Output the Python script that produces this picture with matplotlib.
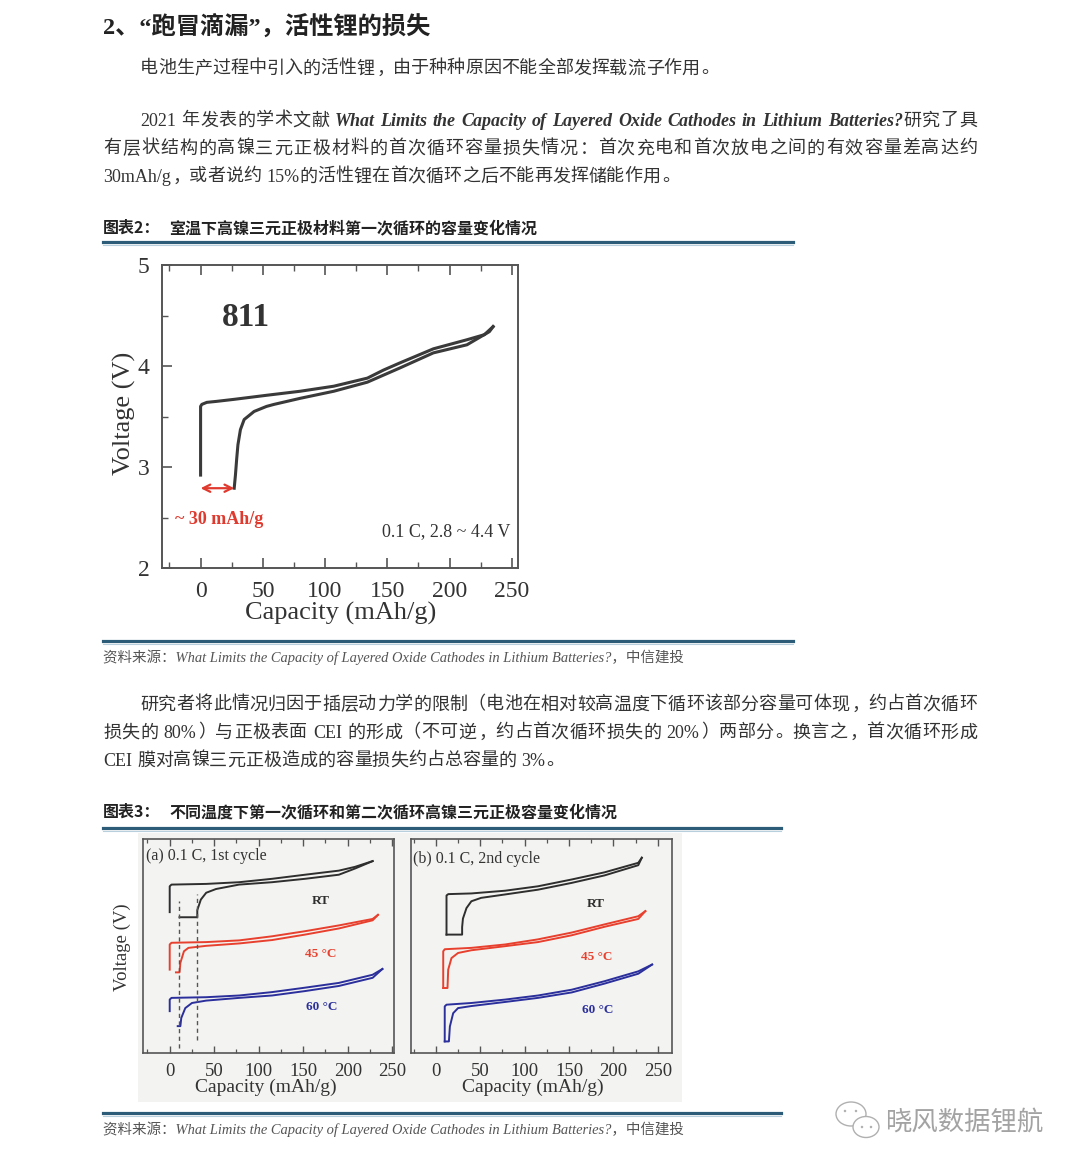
import matplotlib
matplotlib.use('Agg')
import matplotlib.pyplot as plt
from matplotlib.ticker import MultipleLocator
from matplotlib.lines import Line2D
from matplotlib.patches import Rectangle, Ellipse

# ---------------- data ----------------
# Chart 2: 811 first cycle at room temperature
cap1_charge = [0, 0, 1, 5, 13, 27, 53, 80, 107, 134, 147, 160, 187, 214, 228, 235]
volt1_charge = [2.92, 3.60, 3.62, 3.64, 3.65, 3.67, 3.71, 3.75, 3.80, 3.88, 3.96, 4.03, 4.17, 4.26, 4.31, 4.39]
cap1_dis = [235, 232, 214, 187, 160, 147, 134, 107, 80, 59, 53, 43, 35, 32, 30, 29, 28, 27]
volt1_dis = [4.39, 4.34, 4.21, 4.13, 3.98, 3.91, 3.84, 3.75, 3.68, 3.62, 3.60, 3.55, 3.47, 3.37, 3.22, 3.08, 2.92, 2.79]
loss_arrow = [0, 27]  # mAh/g, ~30 mAh/g irreversible capacity
arrow_v = 2.79

# Chart 3 (offset voltage, arbitrary units): panel (a) 1st cycle
a_rt_c_x = [0, 0, 2, 41, 78, 115, 152, 190, 208, 228]
a_rt_c_y = [4.14, 4.90, 4.95, 4.97, 5.02, 5.12, 5.24, 5.36, 5.47, 5.64]
a_rt_d_x = [228, 208, 190, 152, 115, 78, 52, 41, 35, 31, 31, 11]
a_rt_d_y = [5.64, 5.42, 5.24, 5.12, 5.02, 4.95, 4.82, 4.71, 4.51, 4.20, 3.99, 3.99]
a_45_c_x = [0, 0, 2, 41, 78, 115, 152, 190, 228, 234]
a_45_c_y = [2.45, 3.19, 3.24, 3.26, 3.31, 3.43, 3.58, 3.75, 3.94, 4.06]
a_45_d_x = [234, 228, 190, 152, 115, 78, 41, 21, 16, 12, 11, 7]
a_45_d_y = [4.06, 3.90, 3.66, 3.48, 3.32, 3.22, 3.15, 3.09, 2.99, 2.65, 2.37, 2.37]
a_60_c_x = [0, 0, 2, 41, 78, 115, 152, 190, 228, 239]
a_60_c_y = [1.23, 1.57, 1.62, 1.64, 1.69, 1.79, 1.92, 2.06, 2.30, 2.47]
a_60_d_x = [239, 228, 190, 152, 115, 78, 41, 25, 17.5, 13, 12, 9]
a_60_d_y = [2.47, 2.21, 1.97, 1.82, 1.69, 1.62, 1.54, 1.47, 1.32, 1.03, 0.79, 0.79]
a_dash_x = [11, 31]
a_dash_y0 = [0.15, 0.37]
a_dash_y1 = [4.46, 4.66]

# panel (b) 2nd cycle
b_rt_c_x = [12, 12, 14, 40, 78, 115, 153, 190, 228, 232]
b_rt_c_y = [3.48, 4.63, 4.67, 4.69, 4.77, 4.90, 5.10, 5.31, 5.59, 5.74]
b_rt_d_x = [232, 228, 190, 153, 115, 78, 51, 40, 34.5, 30.5, 29.6, 29.6, 12]
b_rt_d_y = [5.74, 5.52, 5.22, 5.00, 4.80, 4.66, 4.56, 4.46, 4.26, 3.95, 3.70, 3.48, 3.48]
b_45_c_x = [8.3, 8.3, 10, 40, 78, 115, 153, 190, 228, 236]
b_45_c_y = [1.91, 2.99, 3.05, 3.09, 3.19, 3.34, 3.54, 3.78, 4.02, 4.17]
b_45_d_x = [236, 228, 190, 153, 115, 78, 40, 25, 17.6, 13.9, 13.1, 8.3]
b_45_d_y = [4.17, 3.94, 3.71, 3.46, 3.26, 3.14, 3.02, 2.94, 2.79, 2.45, 1.91, 1.91]
b_60_c_x = [10, 10, 12, 40, 78, 115, 153, 190, 228, 243.6]
b_60_c_y = [0.34, 1.37, 1.42, 1.47, 1.57, 1.69, 1.86, 2.11, 2.40, 2.60]
b_60_d_x = [243.6, 228, 190, 153, 115, 78, 40, 25, 19.5, 15.8, 14.7, 10]
b_60_d_y = [2.60, 2.33, 2.04, 1.78, 1.62, 1.50, 1.38, 1.32, 1.17, 0.78, 0.34, 0.34]

temp_labels = ['RT', '45 °C', '60 °C']
temp_colors = ['#2e2e2e', '#e8402e', '#2b2f9c']

# ---------------- texts ----------------
title = '2、“跑冒滴漏”，活性锂的损失'
para1 = '电池生产过程中引入的活性锂，由于种种原因不能全部发挥载流子作用。'
para2_l1a = '2021 年发表的学术文献 '
para2_l1b = 'What Limits the Capacity of Layered Oxide Cathodes in Lithium Batteries?'
para2_l1c = '研究了具'
para2_l2 = '有层状结构的高镍三元正极材料的首次循环容量损失情况：首次充电和首次放电之间的有效容量差高达约'
para2_l3 = '30mAh/g，或者说约 15%的活性锂在首次循环之后不能再发挥储能作用。'
cap2_label = '图表2：'
cap2_text = '室温下高镍三元正极材料第一次循环的容量变化情况'
source_text = '资料来源：What Limits the Capacity of Layered Oxide Cathodes in Lithium Batteries?，中信建投'
para3_l1 = '研究者将此情况归因于插层动力学的限制（电池在相对较高温度下循环该部分容量可体现，约占首次循环'
para3_l2 = '损失的 80%）与正极表面 CEI 的形成（不可逆，约占首次循环损失的 20%）两部分。换言之，首次循环形成'
para3_l3 = 'CEI 膜对高镍三元正极造成的容量损失约占总容量的 3%。'
cap3_label = '图表3：'
cap3_text = '不同温度下第一次循环和第二次循环高镍三元正极容量变化情况'
watermark = '晓风数据锂航'

# ---------------- setup ----------------
W, H = 1080, 1170
fig = plt.figure(figsize=(W / 100, H / 100), dpi=100)
fig.patch.set_facecolor('white')
renderer = fig.canvas.get_renderer()

BODY = ['Liberation Serif', 'Noto Sans CJK SC', 'DejaVu Sans']
SANS = ['Noto Sans CJK SC', 'DejaVu Sans']
SERIF = ['Liberation Serif', 'DejaVu Serif']
TXT = '#333333'


def fx(x):
    return x / W


def fy(y):
    return 1 - y / H


def measure(s, size, props, family=BODY):
    t = fig.text(0, 0, s, fontsize=size, family=family, **props)
    w = t.get_window_extent(renderer).width
    t.remove()
    return w


def is_wide(ch):
    return ord(ch) >= 0x2E80


def tokens_of(segments):
    toks = []
    pend = False
    for text, props in segments:
        buf = ''
        bsp = False
        for ch in text:
            if ch == ' ':
                if buf:
                    toks.append((buf, props, bsp))
                    buf = ''
                pend = True
            elif not is_wide(ch):
                if not buf:
                    bsp = pend
                    pend = False
                buf += ch
            else:
                if buf:
                    toks.append((buf, props, bsp))
                    buf = ''
                toks.append((ch, props, pend))
                pend = False
        if buf:
            toks.append((buf, props, bsp))
    return toks


def draw_line(segments, x0, y, x1=None, size=13, color=TXT):
    toks = tokens_of(segments)
    em = size * 100 / 72
    ws = []
    for t, p, _ in toks:
        if len(t) == 1 and is_wide(t):
            ws.append(em)
        else:
            ws.append(measure(t, size, p))
    spw = em * 0.28
    total = sum(ws) + spw * sum(1 for tk in toks if tk[2])
    gap = 0.0
    if x1 is not None and len(toks) > 1:
        gap = (x1 - x0 - total) / (len(toks) - 1)
    x = x0
    for (t, p, s), w in zip(toks, ws):
        if s:
            x += spw
        if len(t) == 1 and is_wide(t):
            if t in '（“':
                fig.text(fx(x + w), fy(y), t, fontsize=size, color=color, ha='right',
                         va='center', family=BODY, **p)
            elif t in '，。：、；）”':
                fig.text(fx(x + em * 0.08), fy(y), t, fontsize=size, color=color, ha='left',
                         va='center', family=BODY, **p)
            else:
                fig.text(fx(x + w / 2), fy(y), t, fontsize=size, color=color, ha='center',
                         va='center', family=BODY, **p)
        else:
            fig.text(fx(x), fy(y), t, fontsize=size, color=color, ha='left',
                     va='center', family=BODY, **p)
        x += w + gap


def hline(y, x0, x1):
    fig.add_artist(Line2D([fx(x0), fx(x1)], [fy(y), fy(y)], color='#2d5c78', lw=2.3,
                          transform=fig.transFigure))
    fig.add_artist(Line2D([fx(x0), fx(x1)], [fy(y + 3), fy(y + 3)], color='#b8d0de', lw=0.8,
                          transform=fig.transFigure))


def fit_text(s, x0, x1, y, base, **kw):
    w = measure(s, base, {k: v for k, v in kw.items() if k in ('style', 'fontweight')})
    size = base * (x1 - x0) / w
    fig.text(fx(x0), fy(y), s, fontsize=size, ha='left', va='center', family=BODY, **kw)


N = {}
BI = {'fontweight': 'bold', 'style': 'italic'}

# ---------------- page text ----------------
fig.text(fx(103), fy(27), title, fontsize=17.5, fontweight='bold', family=BODY,
         color='#222222', ha='left', va='center')
draw_line([(para1, N)], 140, 69)
draw_line([(para2_l1a, N), (para2_l1b, BI), (para2_l1c, N)], 140, 121, 977)
draw_line([(para2_l2, N)], 103, 149, 977)
draw_line([(para2_l3, N)], 103, 177)

fig.text(fx(103), fy(228), cap2_label, fontsize=11.5, fontweight='bold', family=SANS,
         color='#222222', ha='left', va='center')
fig.text(fx(169), fy(228), cap2_text, fontsize=11.5, fontweight='bold', family=SANS,
         color='#222222', ha='left', va='center')
hline(242, 103, 793)

hline(641, 103, 793)
fit_text(source_text, 103, 687, 657, 10, style='italic', color='#555555')

draw_line([(para3_l1, N)], 140, 705, 977)
draw_line([(para3_l2, N)], 103, 733, 977)
draw_line([(para3_l3, N)], 103, 761)

fig.text(fx(103), fy(812), cap3_label, fontsize=11.5, fontweight='bold', family=SANS,
         color='#222222', ha='left', va='center')
fig.text(fx(169), fy(812), cap3_text, fontsize=11.5, fontweight='bold', family=SANS,
         color='#222222', ha='left', va='center')
hline(828, 103, 781)

hline(1113, 103, 781)
fit_text(source_text, 103, 687, 1129, 10, style='italic', color='#555555')

# watermark
fig.text(fx(885), fy(1122), watermark, fontsize=19, family=SANS, color='#a3a3a3',
         ha='left', va='center', fontweight='light')
for (cx, cy, ew, eh) in [(851, 1114, 30, 24), (866, 1127, 26, 21)]:
    fig.add_artist(Ellipse((fx(cx), fy(cy)), ew / W, eh / H, transform=fig.transFigure,
                           facecolor='white', edgecolor='#b0b0b0', lw=1.0))
for (dx, dy) in [(845, 1111), (856, 1111), (862, 1127), (871, 1127)]:
    fig.add_artist(Ellipse((fx(dx), fy(dy)), 2.5 / W, 2.5 / H, transform=fig.transFigure,
                           facecolor='#b0b0b0', edgecolor='none'))


# ---------------- chart 2 ----------------
def px_axes(l, t, r, b):
    return fig.add_axes([fx(l), fy(b), (r - l) / W, (b - t) / H])


ax1 = px_axes(162, 265, 518, 568)
ax1.plot(cap1_charge, volt1_charge, color='#3a3a3a', lw=2.2, solid_joinstyle='round')
ax1.plot(cap1_dis, volt1_dis, color='#3a3a3a', lw=2.2, solid_joinstyle='round')
ax1.set_xlim(-31, 255)
ax1.set_ylim(2, 5)
ax1.xaxis.set_major_locator(MultipleLocator(50))
ax1.xaxis.set_minor_locator(MultipleLocator(25))
ax1.yaxis.set_major_locator(MultipleLocator(1))
ax1.yaxis.set_minor_locator(MultipleLocator(0.5))
ax1.tick_params(which='both', direction='in', top=True, bottom=True, left=True, right=False,
                colors='#555555', labelcolor=TXT)
ax1.tick_params(which='major', length=7, width=1.2, labelsize=17, pad=9)
ax1.tick_params(which='minor', length=4, width=1.0)
for lab in ax1.get_xticklabels() + ax1.get_yticklabels():
    lab.set_family(SERIF)
for sp in ax1.spines.values():
    sp.set_color('#555555')
    sp.set_linewidth(1.4)
ax1.annotate('', xy=(loss_arrow[0], arrow_v), xytext=(loss_arrow[1], arrow_v),
             arrowprops=dict(arrowstyle='<->', color='#e0392e', lw=1.6, shrinkA=0, shrinkB=0,
                             mutation_scale=13))
fig.text(fx(175), fy(519), '~ 30 mAh/g', fontsize=13, fontweight='bold', color='#e0392e',
         family=SERIF, ha='left', va='center')
fig.text(fx(510), fy(532), '0.1 C, 2.8 ~ 4.4 V', fontsize=13, color=TXT, family=SERIF,
         ha='right', va='center')
fig.text(fx(246), fy(318), '811', fontsize=24, fontweight='bold', color=TXT, family=SERIF,
         ha='center', va='center')
fig.text(fx(341), fy(613), 'Capacity (mAh/g)', fontsize=19, color=TXT, family=SERIF,
         ha='center', va='center')
fig.text(fx(124), fy(413), 'Voltage (V)', fontsize=19, color=TXT, family=SERIF,
         ha='center', va='center', rotation=90)

# ---------------- chart 3 ----------------
BG = '#f3f3f1'
fig.add_artist(Rectangle((fx(138), fy(1102)), (682 - 138) / W, (1102 - 833) / H,
                         transform=fig.transFigure, facecolor=BG, edgecolor='none', zorder=0))

panels = [
    (px_axes(143, 839, 394, 1053), (-30, 252),
     [(a_rt_c_x, a_rt_c_y, a_rt_d_x, a_rt_d_y),
      (a_45_c_x, a_45_c_y, a_45_d_x, a_45_d_y),
      (a_60_c_x, a_60_c_y, a_60_d_x, a_60_d_y)],
     '(a) 0.1 C, 1st cycle', (146, 856), [(321, 901), (321, 954), (322, 1007)], 266),
    (px_axes(411, 839, 672, 1053), (-28, 266),
     [(b_rt_c_x, b_rt_c_y, b_rt_d_x, b_rt_d_y),
      (b_45_c_x, b_45_c_y, b_45_d_x, b_45_d_y),
      (b_60_c_x, b_60_c_y, b_60_d_x, b_60_d_y)],
     '(b) 0.1 C, 2nd cycle', (413, 859), [(596, 904), (597, 957), (598, 1010)], 533),
]

for ax, xl, curves, ptitle, tpos, lpos, xc in panels:
    ax.set_facecolor(BG)
    for (cx, cy, dx, dy), col in zip(curves, temp_colors):
        ax.plot(cx, cy, color=col, lw=1.4, solid_joinstyle='round')
        ax.plot(dx, dy, color=col, lw=1.4, solid_joinstyle='round')
    ax.set_xlim(*xl)
    ax.set_ylim(0, 6.29)
    ax.xaxis.set_major_locator(MultipleLocator(50))
    ax.xaxis.set_minor_locator(MultipleLocator(25))
    ax.set_yticks([])
    ax.tick_params(which='both', direction='in', top=True, bottom=True, colors='#555555',
                   labelcolor=TXT)
    ax.tick_params(which='major', length=5, width=1.0, labelsize=13.5, pad=7)
    ax.tick_params(which='minor', length=3, width=0.9)
    for lab in ax.get_xticklabels():
        lab.set_family(SERIF)
    for sp in ax.spines.values():
        sp.set_color('#555555')
        sp.set_linewidth(1.2)
    fig.text(fx(tpos[0]), fy(tpos[1]), ptitle, fontsize=11.5, color=TXT, family=SERIF,
             ha='left', va='center')
    for lab, col, (lx, ly) in zip(temp_labels, temp_colors, lpos):
        fig.text(fx(lx), fy(ly), lab, fontsize=9.5, fontweight='bold', color=col,
                 family=SERIF, ha='center', va='center')
    fig.text(fx(xc), fy(1087), 'Capacity (mAh/g)', fontsize=14, color=TXT, family=SERIF,
             ha='center', va='center')

axa = panels[0][0]
for xd, y0, y1 in zip(a_dash_x, a_dash_y0, a_dash_y1):
    axa.plot([xd, xd], [y0, y1], color='#555555', lw=1.0, ls=(0, (3, 2.5)))

fig.text(fx(122), fy(947), 'Voltage (V)', fontsize=13.5, color=TXT, family=SERIF,
         ha='center', va='center', rotation=90)

fig.savefig('out.png', dpi=100)
